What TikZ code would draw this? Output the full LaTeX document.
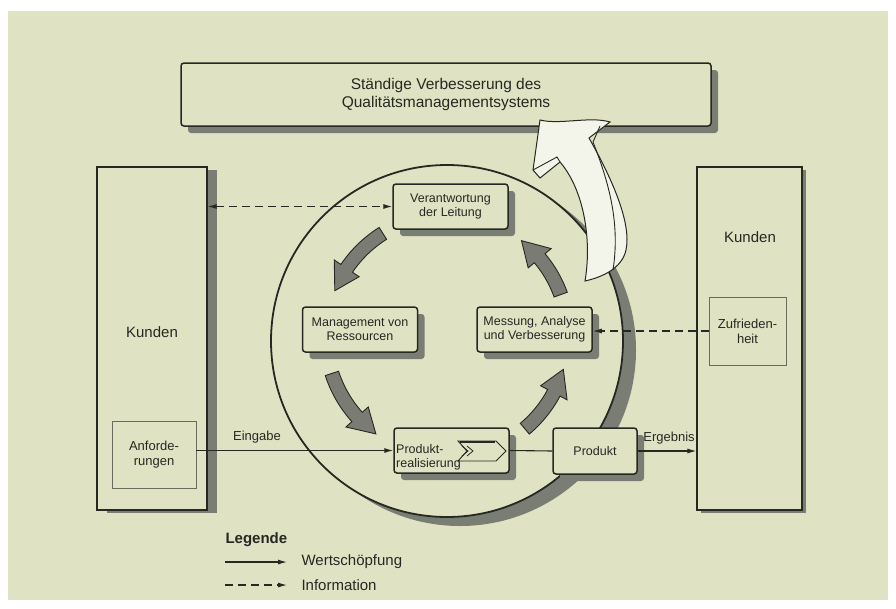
\documentclass[tikz,border=0pt]{standalone}
\usepackage{fontspec}
\setmainfont{Liberation Sans}
\usetikzlibrary{arrows.meta,shadows}

\definecolor{paper}{RGB}{223,227,196}
\definecolor{schatten}{RGB}{122,125,115}
\definecolor{ink}{RGB}{38,40,34}
\definecolor{wedge}{RGB}{122,124,116}
\definecolor{thinline}{RGB}{105,108,92}

\tikzset{
  prozess/.style={draw=ink, line width=1.5pt, rounded corners=3pt, fill=paper,
    minimum width=115pt, minimum height=45pt, inner sep=1pt, align=center,
    font=\fontsize{12.5}{14}\selectfont, text=ink,
    drop shadow={shadow xshift=7pt, shadow yshift=-7pt, fill=schatten, opacity=1}},
  kunde/.style={draw=ink, line width=1.4pt, fill=paper, minimum height=343pt},
  merkmal/.style={draw=thinline, line width=0.9pt, fill=paper, align=center,
    font=\fontsize{13}{15}\selectfont, text=ink},
  fluss/.style={draw=ink, line width=1.1pt, -{Latex[length=9pt,width=5pt]}},
  info/.style={fluss, dash pattern=on 8pt off 5pt},
  beschriftung/.style={font=\fontsize{13}{15}\selectfont, text=ink},
}

% curved grey arrow of the process cycle, angles counted on screen
\newcommand{\kreispfeil}[2]{%
  \filldraw[fill=wedge, draw=ink, line width=0.9pt, shift={(447,336)}]
    ({-#1}:128) arc[start angle={-#1}, end angle={-(#2-12)}, radius=128]
    -- ({-(#2-12)}:136) -- ({-#2}:121) -- ({-(#2-12)}:106)
    -- ({-(#2-12)}:114) arc[start angle={-(#2-12)}, end angle={-#1}, radius=114]
    -- cycle;}

\begin{document}
\begin{tikzpicture}[x=1pt, y=-1pt]
  \useasboundingbox (0,0) rectangle (896,608);
  \fill[white] (0,0) rectangle (896,608);
  \fill[paper] (8,11) rectangle (888,600);

  % top box
  \node[prozess, minimum width=530pt, minimum height=63pt,
        font=\fontsize{15.5}{18}\selectfont] (ziel) at (446,94.5)
        {Ständige Verbesserung des\\Qualitätsmanagementsystems};

  % customers on both sides
  \node[kunde, minimum width=110pt,
        drop shadow={shadow xshift=10pt, shadow yshift=-3pt, fill=schatten, opacity=1}]
        (kl) at (152,338.5) {};
  \node[kunde, minimum width=105pt,
        drop shadow={shadow xshift=4pt, shadow yshift=-3pt, fill=schatten, opacity=1}]
        (kr) at (749.5,338.5) {};
  \node[font=\fontsize{15}{17}\selectfont, text=ink] (kltext) at (152,332) {Kunden};
  \node[font=\fontsize{15}{17}\selectfont, text=ink] (krtext) at (750,237) {Kunden};
  \node[merkmal, minimum width=84pt, minimum height=67pt] (anf) at (154,454.5) {Anforde-\\rungen};
  \node[merkmal, minimum width=77pt, minimum height=68pt] (zuf) at (747.5,331) {Zufrieden-\\heit};

  % the circle with its shadow
  \fill[schatten] (460,350) circle[radius=176];
  \filldraw[fill=paper, draw=ink, line width=1.8pt] (447,341) circle[radius=176];

  % processes
  \node[prozess] (leit) at (450.5,206.5) {Verantwortung\\der Leitung};
  \node[prozess] (res) at (360,329.5) {Management von\\Ressourcen};
  \node[prozess] (mess) at (534.5,329.5) {Messung, Analyse\\und Verbesserung};
  \node[prozess] (real) at (451.5,450.5) {};
  \node[prozess, minimum width=84pt, minimum height=46pt] (prod) at (595,451) {Produkt};
  \node[anchor=west, align=left, inner sep=0pt, text=ink, font=\fontsize{12.5}{14}\selectfont]
        (realtext) at (396,457) {Produkt-\\realisierung};
  \filldraw[fill=paper, draw=ink, line width=0.9pt]
    (458,441) -- (496,441) -- (506,451) -- (496,461) -- (458,461) -- (467,451) -- cycle;
  \draw[ink, line width=2pt] (460,441.5) -- (495,441.5);
  \draw[ink, line width=0.8pt] (462,446) -- (468,451) -- (462,456)
                               (467,446) -- (473,451) -- (467,456);

  % cycle arrows
  \kreispfeil{122}{158}
  \kreispfeil{198}{234}
  \kreispfeil{310}{344}
  \kreispfeil{20}{52}

  % connectors
  \draw[info, {Latex[length=9pt,width=5pt]}-{Latex[length=9pt,width=5pt]}]
    (kl.east |- leit.west) -- (leit.west);
  \draw[info] (zuf.west) -- (zuf.west -| mess.east);
  \draw[fluss] (anf.east |- real.west) -- (real.west);
  \draw[ink, line width=1.1pt] (real.east) -- (prod.west);
  \draw[fluss] (prod.east) -- (prod.east -| kr.west);
  \node[beschriftung] (eingabe) at (257,437) {Eingabe};
  \node[beschriftung] (ergebnis) at (669,438) {Ergebnis};

  % big arrow up to the improvement box
  \filldraw[fill=paper!35!white, draw=ink, line width=1pt]
    (585,281) .. controls (592,240) and (584,190) .. (560,162)
    -- (540,178) -- (533,170) -- (540,120)
    .. controls (560,125) and (590,116) .. (610,122)
    -- (589,138)
    .. controls (610,175) and (632,222) .. (626,250)
    .. controls (622,268) and (603,277) .. (585,281) -- cycle;
  \draw[ink, line width=0.9pt] (533,170) -- (557,157) -- (560,162);
  \draw[ink, line width=0.9pt] (600,126) -- (593,142)
    .. controls (610,185) and (620,225) .. (613,270);

  % legend
  \node[anchor=west, text=ink, font=\bfseries\fontsize{15}{17}\selectfont] (legende) at (222,540) {Legende};
  \coordinate (ws0) at (225,562);
  \coordinate (ws1) at (287,562);
  \draw[fluss] (ws0) -- (ws1);
  \node[anchor=west, text=ink, font=\fontsize{15}{17}\selectfont] (wstext) at (298,562) {Wertschöpfung};
  \coordinate (in0) at (225,585);
  \coordinate (in1) at (287,585);
  \draw[info] (in0) -- (in1);
  \node[anchor=west, text=ink, font=\fontsize{15}{17}\selectfont] (intext) at (298,585) {Information};
\end{tikzpicture}
\end{document}
